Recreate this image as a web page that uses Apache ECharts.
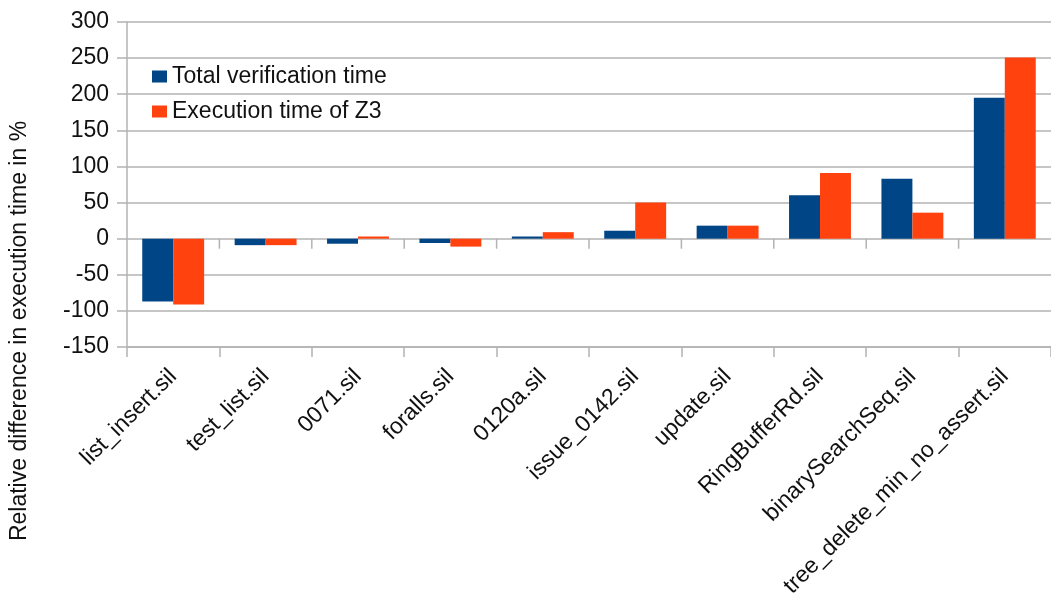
<!DOCTYPE html>
<html>
<head>
<meta charset="utf-8">
<script src="https://cdn.jsdelivr.net/npm/echarts@6/dist/echarts.min.js"></script>
<style>
    html, body { margin: 0; padding: 0; background: #fff; }
    #chart { width: 1051px; height: 604px; }
</style>
</head>
<body>
<div id="chart"></div>
<script>
// benchmark files along the x axis
var categories = ['list_insert.sil', 'test_list.sil', '0071.sil', 'foralls.sil', '0120a.sil',
    'issue_0142.sil', 'update.sil', 'RingBufferRd.sil', 'binarySearchSeq.sil', 'tree_delete_min_no_assert.sil'];

// relative difference in %
var totalVerification = [-87, -9, -7, -6, 3, 11, 18, 60, 83, 195];
var executionZ3 = [-91, -9, 3, -11, 9, 50, 18, 91, 36, 251];

var seriesNames = ['Total verification time', 'Execution time of Z3'];
var yTicks = { min: -150, max: 300, step: 50 };

var fontFamily = '"Liberation Sans", Arial, sans-serif';
var fontSize = 23;
var gridColor = '#b3b3b3';
var textColor = '#111';

var chart = echarts.init(document.getElementById('chart'));
var options = {
    animation: false,
    textStyle: { fontFamily: fontFamily },
    legend: {
        data: seriesNames,
        orient: 'vertical',
        left: 147,
        top: 60,
        itemWidth: 15,
        itemHeight: 12,
        itemGap: 12,
        icon: 'rect',
        textStyle: { fontSize: fontSize, color: textColor, fontFamily: fontFamily }
    },
    grid: {
        left: 127,
        top: 22,
        width: 933,
        bottom: 257,
        containLabel: false
    },
    xAxis: [{
        type: 'category',
        data: categories,
        position: 'bottom',
        axisLine: { onZero: false, lineStyle: { color: gridColor, width: 1.5 } },
        axisTick: { show: true, interval: 0, length: 10, lineStyle: { color: gridColor, width: 1.5 } },
        axisLabel: {
            rotate: 45,
            interval: 0,
            margin: 26,
            fontSize: fontSize,
            color: textColor,
            fontFamily: fontFamily
        }
    }],
    yAxis: [{
        type: 'value',
        min: yTicks.min,
        max: yTicks.max,
        interval: yTicks.step,
        axisLine: { show: true, lineStyle: { color: gridColor, width: 1.5 } },
        axisTick: { show: true, length: 10, lineStyle: { color: gridColor, width: 1.5 } },
        splitLine: { show: true, lineStyle: { color: gridColor, width: 1.5 } },
        axisLabel: {
            margin: 18,
            fontSize: fontSize,
            color: textColor,
            fontFamily: fontFamily
        }
    }],
    graphic: [{
        type: 'text',
        x: 20,
        y: 331,
        rotation: Math.PI / 2,
        style: {
            text: 'Relative difference in execution time in %',
            fontSize: fontSize,
            fontFamily: fontFamily,
            fill: textColor,
            align: 'center',
            verticalAlign: 'middle'
        }
    }],
    series: [{
        name: seriesNames[0],
        type: 'bar',
        data: totalVerification,
        barGap: '0%',
        barCategoryGap: '33%',
        itemStyle: { color: '#004586' }
    }, {
        name: seriesNames[1],
        type: 'bar',
        data: executionZ3,
        barGap: '0%',
        barCategoryGap: '33%',
        itemStyle: { color: '#ff420e' }
    }, {
        // category separators hanging below the zero line, like the LibreOffice axis
        name: 'zeroTicks',
        type: 'custom',
        silent: true,
        clip: false,
        data: categories.map(function (c) { return [c, 0]; }),
        renderItem: function (params, api) {
            var p = api.coord([api.value(0), 0]);
            var w = api.size([1, 0])[0];
            var x = p[0] - w / 2;
            if (params.dataIndex === 0) {
                return null;
            }
            return {
                type: 'line',
                shape: { x1: x, y1: p[1], x2: x, y2: p[1] + 10 },
                style: { stroke: gridColor, lineWidth: 1.5 }
            };
        }
    }]
};
chart.setOption(options);
</script>
</body>
</html>
